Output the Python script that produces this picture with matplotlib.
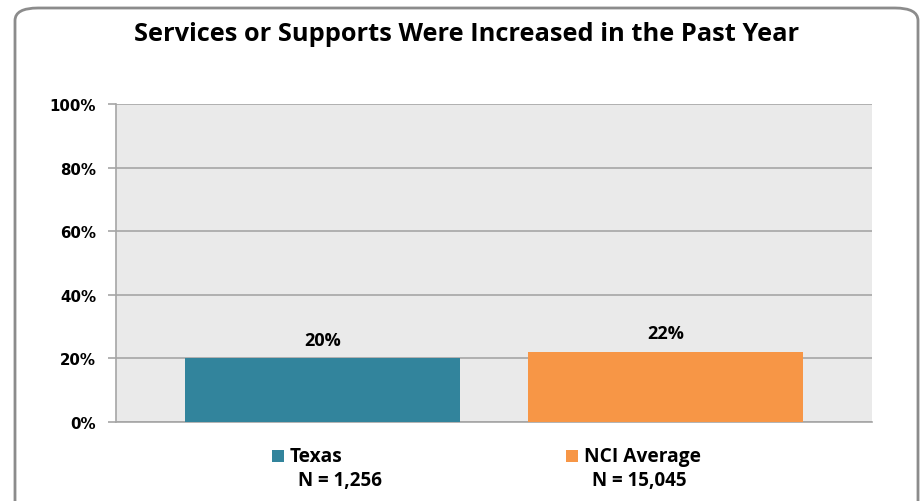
import matplotlib.pyplot as plt
from matplotlib.patches import FancyBboxPatch, Rectangle

series = ['Texas', 'NCI Average']
counts = ['N = 1,256', 'N = 15,045']
values = [20, 22]
colors = ['#32849c', '#f79646']
yticks = [0, 20, 40, 60, 80, 100]

W, H = 921, 502
fig = plt.figure(figsize=(W / 100, H / 100), dpi=100)

# outer rounded frame (bottom runs off the image)
frame = FancyBboxPatch((15 / W, -30 / H), 903 / W, (H - 9 + 30) / H,
                       boxstyle='round,pad=0,rounding_size=0.025',
                       transform=fig.transFigure, facecolor='white',
                       edgecolor='#8c8c8c', linewidth=2, zorder=-5)
fig.patches.append(frame)

ax = fig.add_axes([116 / W, (H - 423) / H, 756 / W, 318 / H])
ax.set_facecolor('#eaeaea')

x = [0, 1]
bars = ax.bar(x, values, width=0.802, color=colors, zorder=3)
ax.set_xlim(-0.602, 1.602)
ax.set_ylim(0, 100)

ax.set_yticks(yticks)
ax.set_yticklabels([f'{v}%' for v in yticks], fontsize=10.8,
                   fontweight='bold', family='DejaVu Sans')
ax.set_xticks([])
ax.yaxis.grid(True, color='#a6a6a6', linewidth=1.2, zorder=0)
ax.tick_params(axis='y', length=5.8, color='#a6a6a6', width=1.2, pad=8.5)
for s in ['top', 'right']:
    ax.spines[s].set_visible(False)
ax.spines['left'].set_color('#a6a6a6')
ax.spines['bottom'].set_color('#a6a6a6')
ax.spines['left'].set_linewidth(1.2)
ax.spines['bottom'].set_linewidth(1.2)

for xi, v in zip(x, values):
    ax.text(xi, v + 3, f'{v}%', ha='center', va='bottom', fontsize=13,
            fontweight='bold', family='Open Sans')

fig.text(467 / W, 1 - 35 / H, 'Services or Supports Were Increased in the Past Year',
         ha='center', va='center', fontsize=18.3, fontweight='bold',
         family='Open Sans')

# legend entries below the plot
leg_x = [272, 566]
for lx, name, n, c in zip(leg_x, series, counts, colors):
    fig.patches.append(Rectangle((lx / W, (H - 463) / H), 12 / W, 12 / H,
                                 transform=fig.transFigure, facecolor=c,
                                 edgecolor='none'))
    fig.text((lx + 18) / W, 1 - 457 / H, name, ha='left', va='center',
             fontsize=13.8, fontweight='bold', family='Open Sans')
    fig.text((lx + 26) / W, 1 - 481 / H, n, ha='left', va='center',
             fontsize=13.5, fontweight='bold', family='Open Sans')

fig.savefig('out.png', dpi=100)
